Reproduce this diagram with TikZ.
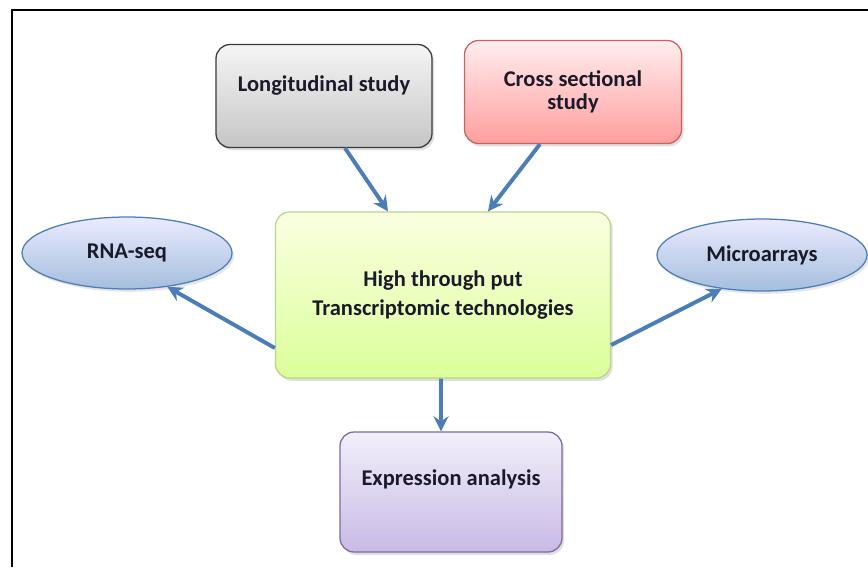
\documentclass[tikz,border=0pt]{standalone}
\usepackage{fontspec}
\setmainfont{Carlito}
\usetikzlibrary{arrows.meta, shadows, shapes.geometric}
\definecolor{cblue}{HTML}{4A7EBB}
\definecolor{cgreyline}{HTML}{3A3A3A}
\definecolor{credline}{HTML}{D06060}
\definecolor{cgreenline}{HTML}{B4D884}
\definecolor{cpurpleline}{HTML}{7E6A9C}
\definecolor{cpurple}{HTML}{BFAEE2}
\definecolor{ctext}{HTML}{1A1A2A}
\tikzset{
  every picture/.style={font=\fontsize{16}{16.5}\selectfont\bfseries, text=ctext},
  box/.style={draw=#1, line width=0.9pt, rounded corners=10pt, align=center,
    drop shadow={opacity=0.25, shadow xshift=1.5pt, shadow yshift=-2pt}},
  oval/.style={ellipse, draw=cblue, line width=0.9pt, top color=blue!8!white,
    bottom color=cblue!50!white, minimum width=105*2*0.025cm, minimum height=72*0.025cm,
    drop shadow={opacity=0.2, shadow xshift=1.5pt, shadow yshift=-2pt}},
  arrow/.style={-{Stealth[length=3.8mm, width=3.8mm, inset=1.3mm]}, draw=cblue, line width=2.8pt},
}

\begin{document}
\begin{tikzpicture}[x=0.025cm, y=-0.025cm]
  \useasboundingbox (0,0) rectangle (868,567);
  \draw[line width=2pt] (12,567) -- (12,10) -- (868,10);
  % study designs
  \node[box=cgreyline, top color=gray!8, bottom color=gray!45, minimum width=216*0.025cm,
    minimum height=103*0.025cm, text height=11pt, text depth=17pt] (long) at (324,96) {Longitudinal study};
  \node[box=credline, top color=red!7, bottom color=red!38, minimum width=217*0.025cm,
    minimum height=103*0.025cm] (cross) at (573,92) {Cross sectional\\study};
  % technologies
  \node[box=cgreenline, top color=green!15!yellow!12, bottom color=green!35!yellow!40,
    minimum width=335*0.025cm, minimum height=166*0.025cm] (htt) at (443,295)
    {High through put\\[3.5pt]Transcriptomic technologies};
  \node[oval] (rna) at (127,253) {RNA-seq};
  \node[oval] (micro) at (762,255) {Microarrays};
  \node[box=cpurpleline, top color=cpurple!20, bottom color=cpurple!85, minimum width=222*0.025cm,
    minimum height=120*0.025cm, text height=11pt, text depth=20pt] (expr) at (451,492) {Expression analysis};
  % connectors
  \draw[arrow] ([xshift=0.525cm]long.south) -- ([xshift=-1.375cm]htt.north);
  \draw[arrow] ([xshift=-0.825cm]cross.south) -- ([xshift=1.125cm]htt.north);
  \draw[arrow] ([yshift=-1.325cm]htt.west) -- (rna.-40);
  \draw[arrow] ([yshift=-1.25cm]htt.east) -- (micro.-140);
  \draw[arrow] ([xshift=-0.05cm]htt.south) -- ([xshift=-0.25cm]expr.north);
\end{tikzpicture}
\end{document}
